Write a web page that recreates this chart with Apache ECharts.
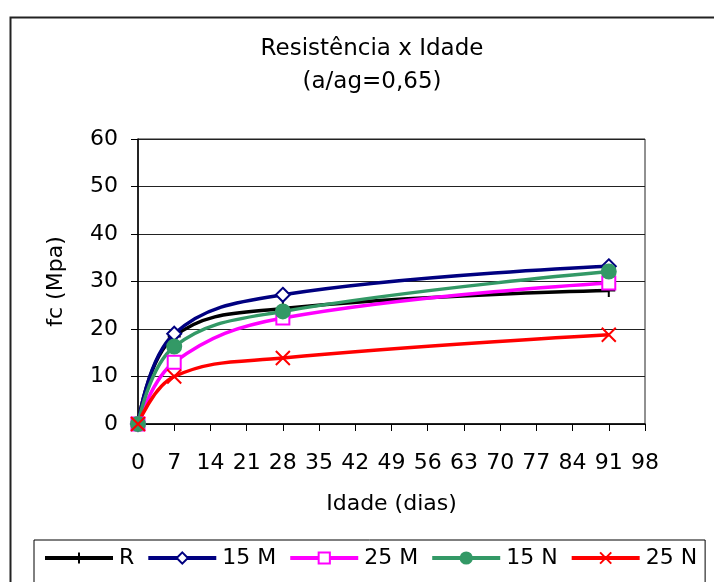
<!DOCTYPE html>
<html>
<head>
<meta charset="utf-8">
<script src="https://cdn.jsdelivr.net/npm/echarts@6/dist/echarts.min.js"></script>
<style>
  html, body { margin: 0; padding: 0; background: #fff; }
  #chart { width: 714px; height: 582px; }
</style>
</head>
<body>
<div id="chart"></div>
<script>
// Compressive strength (MPa) against age (days), a/ag = 0,65
const ages = [0, 7, 28, 91];
const serieR   = [0, 18.4, 24.3, 28.1];
const serie15M = [0, 19.0, 27.2, 33.2];
const serie25M = [0, 13.0, 22.3, 29.7];
const serie15N = [0, 16.3, 23.7, 32.1];
const serie25N = [0, 10.0, 13.9, 18.8];
const xTicks = [0, 7, 14, 21, 28, 35, 42, 49, 56, 63, 70, 77, 84, 91, 98];
const yTicks = [0, 10, 20, 30, 40, 50, 60];

const FONT = 'DejaVu Sans';

const pairs = (ys) => ages.map((x, i) => [x, ys[i]]);

const PLUS = 'path://M5,0L5,10M0,5L10,5';
const CROSS = 'path://M0,0L10,10M10,0L0,10';

function makeSeries(name, ys, color, symbol, size, fill) {
  return {
    name: name,
    type: 'line',
    data: pairs(ys),
    smooth: 0.4,
    symbol: symbol,
    symbolSize: size,
    showAllSymbol: true,
    lineStyle: { color: color, width: 3.5 },
    itemStyle: { color: fill, borderColor: color, borderWidth: 2 },
    emphasis: { disabled: true },
    animation: false
  };
}

const chart = echarts.init(document.getElementById('chart'), null, { renderer: 'canvas' });

chart.setOption({
  backgroundColor: '#fff',
  animation: false,
  title: {
    text: 'Resistência x Idade\n(a/ag=0,65)',
    left: 367,
    top: 28,
    textAlign: 'center',
    textStyle: {
      fontFamily: FONT,
      fontSize: 23,
      fontWeight: 'normal',
      color: '#000',
      lineHeight: 33
    }
  },
  graphic: [{
    type: 'rect',
    left: 8,
    top: 15,
    shape: { width: 730, height: 600 },
    style: { fill: 'none', stroke: '#222', lineWidth: 2 },
    silent: true,
    z: -1
  }],
  legend: {
    left: 34,
    top: 540,
    orient: 'horizontal',
    itemWidth: 68,
    itemHeight: 14,
    itemGap: 12,
    padding: [7, 8, 20, 9],
    borderColor: '#000',
    borderWidth: 1,
    lineStyle: { width: 4 },
    textStyle: { fontFamily: FONT, fontSize: 22, color: '#000', padding: [0, 0, 0, 1] },
    data: ['R', '15 M', '25 M', '15 N', '25 N']
  },
  grid: {
    left: 138,
    right: 69,
    top: 139,
    bottom: 158,
    show: true,
    borderColor: '#222',
    borderWidth: 1,
    containLabel: false
  },
  xAxis: {
    type: 'value',
    min: xTicks[0],
    max: xTicks[xTicks.length - 1],
    interval: 7,
    name: 'Idade (dias)',
    nameLocation: 'middle',
    nameGap: 69,
    nameTextStyle: { fontFamily: FONT, fontSize: 22, color: '#000' },
    axisLine: { show: true, lineStyle: { color: '#000', width: 1.5 } },
    axisTick: { show: true, length: 7, lineStyle: { color: '#000' } },
    axisLabel: { fontFamily: FONT, fontSize: 22, color: '#000', margin: 28 },
    splitLine: { show: false }
  },
  yAxis: {
    type: 'value',
    min: yTicks[0],
    max: yTicks[yTicks.length - 1],
    interval: 10,
    name: 'fc (Mpa)',
    nameLocation: 'middle',
    nameGap: 71,
    nameRotate: 90,
    nameTextStyle: { fontFamily: FONT, fontSize: 22, color: '#000' },
    axisLine: { show: true, lineStyle: { color: '#000', width: 1.5 } },
    axisTick: { show: true, length: 7, lineStyle: { color: '#000' } },
    axisLabel: { fontFamily: FONT, fontSize: 22, color: '#000', margin: 20 },
    splitLine: { show: true, lineStyle: { color: '#222', width: 1 } }
  },
  series: [
    makeSeries('R', serieR, '#000000', PLUS, 13, '#000000'),
    makeSeries('15 M', serie15M, '#000080', 'diamond', 14, '#ffffff'),
    makeSeries('25 M', serie25M, '#ff00ff', 'rect', 13, '#ffffff'),
    makeSeries('15 N', serie15N, '#339966', 'circle', 14, '#339966'),
    makeSeries('25 N', serie25N, '#ff0000', CROSS, 14, '#ff0000')
  ]
});
</script>
</body>
</html>
